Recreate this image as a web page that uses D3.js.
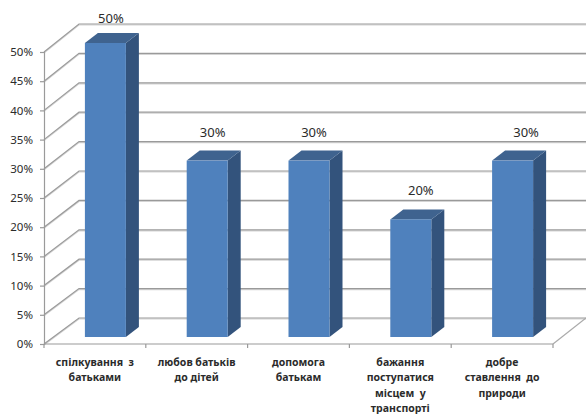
<!DOCTYPE html>
<html><head><meta charset="utf-8">
<script src="https://cdn.jsdelivr.net/npm/d3@7"></script>
<style>html,body{margin:0;padding:0;background:#fff}svg{display:block}text{font-family:"Noto Sans",sans-serif;fill:#2b2b2b}</style>
</head><body><svg id="c" width="586" height="414"></svg>
<script>
const categories = ["спілкування  з батьками","любов батьків до дітей","допомога батькам","бажання поступатися місцем у транспорті","добре ставлення  до природи"];
const categoryLines = [["спілкування  з","батьками"],["любов батьків","до дітей"],["допомога","батькам"],["бажання","поступатися","місцем  у","транспорті"],["добре","ставлення  до","природи"]];
const values = [50,30,30,20,30];
const yTicks = [0,5,10,15,20,25,30,35,40,45,50];

const svg = d3.select("#c");
const x = d3.scaleBand().domain(categories).range([44,553]);
const yFront = d3.scaleLinear().domain([0,50]).range([344,52]);
const yBack  = d3.scaleLinear().domain([0,50]).range([318,24]);
const yBar   = d3.scaleLinear().domain([0,50]).range([337,43]);
const backX = 79, rightBack = 586, rightFront = 553;
const barW = 41, depthX = 13, depthY = 10, barOff = 10.5;
const labelShift = [5.5,5.5,5,10,13.5];

// walls
const grid = svg.append("g").attr("fill","none");
[["#d4d4d4",1],["#9a9a9a",0]].forEach(([col,off])=>{
  const g = grid.append("g").attr("stroke",col).attr("stroke-width",1.2);
  g.selectAll("path").data(yTicks).join("path")
    .attr("d",d=>`M44,${yFront(d)+off}L${backX},${yBack(d)+off}L${rightBack},${yBack(d)+off}`);
});
grid.append("path").attr("stroke","#aaa").attr("stroke-width",1.2)
  .attr("d",`M${rightFront},${yFront(0)}L${rightBack},${yBack(0)}`);

// axes
const yAxis = d3.axisLeft(yFront).tickValues(yTicks).tickSize(4).tickPadding(7).tickFormat(d=>d+"%");
const ga = svg.append("g").attr("transform","translate(44,0)").call(yAxis);
ga.selectAll("text").attr("font-size",11.5).style("font-family",'"Noto Sans",sans-serif');
ga.selectAll("line,path").attr("stroke","#9a9a9a").attr("stroke-width",1.2);
const xEdges = categories.map(c=>x(c)).concat([x.range()[1]]);
const gx = svg.append("g");
gx.append("line").attr("x1",44).attr("x2",rightFront).attr("y1",yFront(0)).attr("y2",yFront(0)).attr("stroke","#9a9a9a").attr("stroke-width",1.2);
gx.selectAll("line.t").data(xEdges).join("line").attr("class","t")
  .attr("x1",d=>d).attr("x2",d=>d).attr("y1",yFront(0)).attr("y2",yFront(0)+4)
  .attr("stroke","#9a9a9a").attr("stroke-width",1.2);

// bars
const bars = svg.selectAll("g.bar").data(categories.map((c,i)=>({c,v:values[i],lines:categoryLines[i],s:labelShift[i]}))).join("g").attr("class","bar");
const bx = d=>x(d.c)+x.bandwidth()/2+barOff-barW/2;
bars.append("path").attr("fill","#33537c").attr("d",d=>{
  const l=bx(d)+barW,t=yBar(d.v),b=yBar(0);
  return `M${l},${t}L${l+depthX},${t-depthY}L${l+depthX},${b-depthY}L${l},${b}Z`;});
bars.append("path").attr("fill","#3f638f").attr("d",d=>{
  const l=bx(d),t=yBar(d.v);
  return `M${l},${t}L${l+depthX},${t-depthY}L${l+barW+depthX},${t-depthY}L${l+barW},${t}Z`;});
bars.append("rect").attr("fill","#4f81bd").attr("x",bx).attr("y",d=>yBar(d.v)).attr("width",barW).attr("height",d=>yBar(0)-yBar(d.v));
bars.append("text").attr("text-anchor","middle").attr("font-size",13)
  .attr("x",d=>bx(d)+barW/2+d.s).attr("y",d=>Math.max(22.5,yBar(d.v)-24)).text(d=>d.v+"%");
bars.append("g").selectAll("text").data(d=>d.lines.map((t,i)=>({t,i,c:d.c}))).join("text")
  .attr("text-anchor","middle").attr("font-size",10.5).attr("font-weight",700).style("white-space","pre")
  .attr("xml:space","preserve")
  .attr("x",d=>x(d.c)+x.bandwidth()/2).attr("y",d=>366+d.i*15.4).text(d=>d.t);
</script></body></html>
